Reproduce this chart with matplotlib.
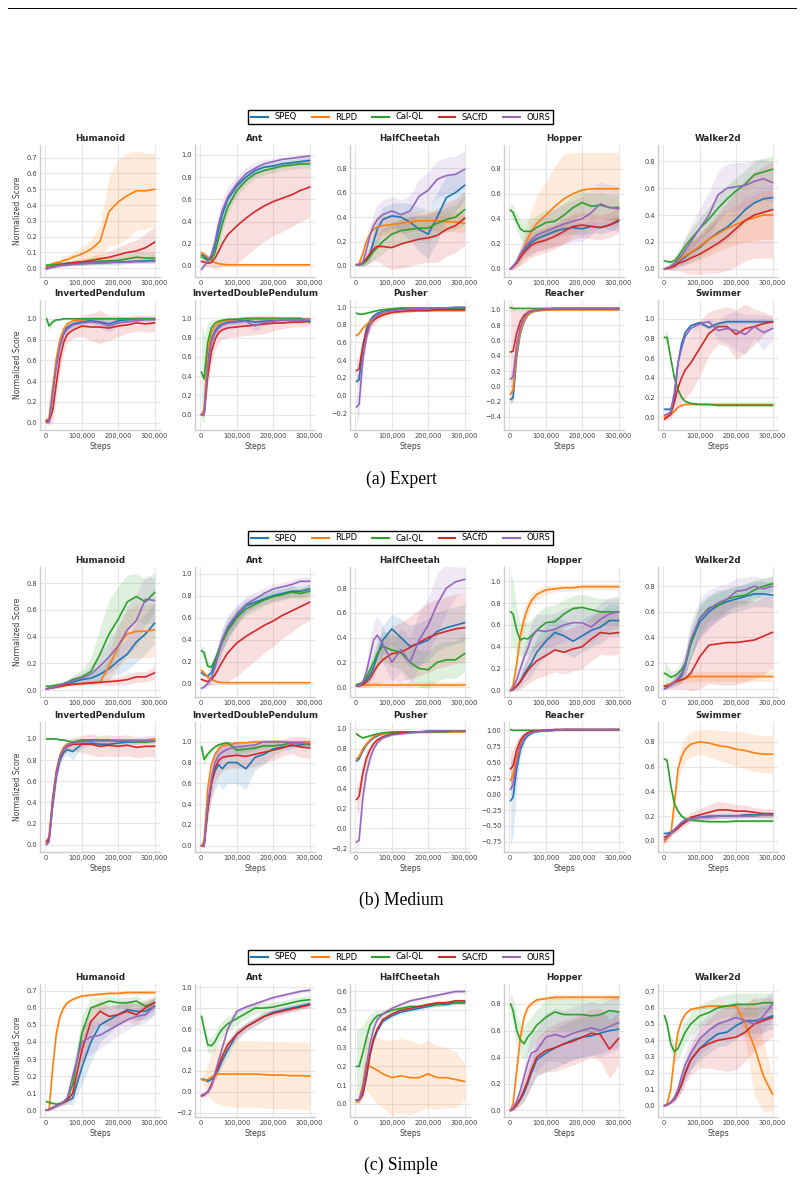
import numpy as np
import matplotlib
matplotlib.use("Agg")
import matplotlib.pyplot as plt
from matplotlib.ticker import MultipleLocator, FuncFormatter
from matplotlib.lines import Line2D

METHODS = ['SPEQ', 'RLPD', 'Cal-QL', 'SACfD', 'OURS']
COLORS = ['#1f77b4', '#ff7f0e', '#2ca02c', '#d62728', '#9467bd']
STEPS_K = [3, 10, 20, 30, 40, 50, 60, 75, 100, 125, 150, 175, 200, 225, 250, 275, 300]

# each panel: means in METHODS order, then half-width of the shaded band (scalar or list)

# ---------------- Expert ----------------
exp_humanoid = [
    [0.0, .005, .01, .015, .02, .022, .025, .028, .03, .033, .035, .038, .04, .042, .045, .048, .05],
    [.01, .02, .03, .035, .04, .05, .055, .07, .09, .12, .17, .36, .42, .46, .49, .49, .5],
    [.02, .02, .022, .025, .028, .03, .032, .035, .04, .042, .045, .048, .05, .06, .07, .065, .065],
    [0.0, .005, .01, .015, .02, .025, .03, .035, .04, .05, .06, .07, .085, .1, .11, .13, .165],
    [-.005, .003, .008, .013, .018, .02, .022, .025, .03, .033, .035, .037, .04, .04, .042, .043, .045]]
exp_humanoid_sd = [
    .01,
    [.005, .01, .01, .015, .02, .02, .025, .03, .04, .06, .1, .22, .27, .27, .25, .24, .23],
    [.005, .005, .006, .008, .01, .012, .014, .016, .02, .022, .025, .028, .03, .03, .035, .035, .035],
    [.005, .005, .006, .008, .01, .012, .014, .016, .02, .025, .03, .04, .05, .06, .07, .09, .1],
    .01]

exp_ant = [
    [.1, .09, .06, .08, .18, .33, .46, .6, .72, .8, .86, .89, .9, .92, .93, .94, .95],
    [.12, .11, .08, .05, .03, .02, .015, .01, .01, .01, .01, .01, .01, .01, .01, .01, .01],
    [.08, .07, .05, .06, .12, .25, .38, .53, .68, .77, .83, .86, .88, .9, .91, .92, .92],
    [.04, .035, .025, .03, .07, .13, .2, .28, .36, .43, .49, .54, .58, .61, .64, .68, .71],
    [-.03, 0, .04, .1, .22, .38, .5, .62, .74, .83, .88, .92, .94, .96, .97, .98, .99]]
exp_ant_sd = [
    [.02, .02, .02, .03, .05, .06, .06, .06, .05, .04, .04, .03, .03, .03, .03, .03, .03],
    .01,
    [.02, .02, .02, .03, .05, .06, .06, .06, .05, .05, .04, .04, .04, .04, .04, .04, .04],
    [.02, .03, .03, .05, .1, .15, .2, .28, .34, .34, .33, .32, .31, .3, .29, .28, .27],
    [.02, .02, .03, .05, .08, .1, .1, .09, .07, .06, .05, .04, .03, .02, .02, .02, .02]]

exp_halfcheetah = [
    [.01, .01, .02, .05, .1, .2, .3, .38, .41, .4, .36, .3, .26, .4, .56, .6, .66],
    [.01, .02, .1, .2, .26, .3, .32, .33, .34, .35, .36, .37, .37, .37, .36, .36, .35],
    [.01, .01, .02, .04, .08, .12, .15, .2, .26, .29, .3, .31, .31, .35, .38, .4, .46],
    [.01, .01, .03, .06, .1, .14, .16, .16, .15, .18, .2, .22, .23, .25, .3, .33, .39],
    [.01, .01, .03, .13, .25, .33, .38, .42, .45, .42, .45, .57, .62, .71, .74, .75, .79]]
exp_halfcheetah_sd = [
    [.005, .01, .02, .04, .06, .08, .1, .1, .1, .12, .15, .18, .2, .2, .18, .15, .12],
    [.005, .01, .03, .05, .06, .07, .08, .08, .08, .08, .08, .08, .08, .08, .08, .08, .08],
    [.005, .01, .02, .03, .05, .07, .08, .1, .1, .1, .1, .1, .1, .1, .1, .1, .12],
    [.005, .01, .03, .05, .08, .1, .12, .15, .18, .2, .2, .2, .2, .22, .22, .22, .22],
    [.005, .01, .03, .06, .08, .1, .12, .12, .12, .12, .13, .14, .15, .15, .15, .15, .15]]

exp_hopper = [
    [0, .02, .05, .1, .15, .18, .21, .24, .27, .3, .32, .33, .32, .34, .33, .35, .38],
    [0, .02, .05, .1, .17, .24, .3, .36, .43, .5, .56, .6, .63, .64, .64, .64, .64],
    [.47, .45, .38, .32, .3, .3, .3, .33, .37, .38, .43, .49, .53, .5, .51, .49, .49],
    [0, .02, .05, .09, .13, .16, .19, .21, .23, .26, .3, .34, .35, .34, .33, .35, .39],
    [0, .02, .06, .12, .17, .2, .23, .27, .3, .33, .36, .38, .4, .45, .52, .49, .48]]
exp_hopper_sd = [
    [.005, .01, .02, .03, .04, .05, .05, .05, .05, .05, .05, .05, .05, .05, .05, .05, .05],
    [.01, .02, .04, .07, .1, .14, .18, .22, .27, .32, .36, .33, .3, .29, .29, .29, .29],
    [.06, .06, .07, .08, .09, .1, .1, .1, .1, .1, .1, .1, .1, .1, .1, .1, .1],
    [.01, .02, .04, .06, .08, .09, .1, .1, .1, .1, .1, .1, .1, .1, .1, .1, .1],
    [.01, .02, .04, .06, .08, .1, .12, .13, .14, .15, .16, .17, .18, .18, .18, .18, .18]]

exp_walker = [
    [0, .005, .01, .03, .05, .07, .09, .12, .16, .22, .27, .31, .37, .44, .49, .52, .53],
    [0, .005, .02, .04, .06, .08, .1, .12, .17, .22, .26, .3, .33, .36, .38, .4, .4],
    [.06, .055, .05, .06, .09, .13, .17, .22, .3, .37, .45, .52, .58, .63, .7, .72, .74],
    [0, .005, .01, .02, .04, .05, .06, .08, .11, .15, .19, .24, .3, .36, .4, .42, .44],
    [0, .01, .02, .04, .07, .1, .14, .2, .3, .4, .55, .6, .61, .62, .65, .67, .64]]
exp_walker_sd = [
    [.005, .01, .02, .03, .04, .05, .06, .07, .08, .09, .1, .1, .1, .1, .1, .1, .1],
    [.005, .01, .02, .03, .04, .05, .06, .08, .1, .12, .13, .14, .15, .16, .17, .18, .18],
    [.01, .01, .02, .03, .04, .05, .06, .07, .08, .09, .1, .1, .1, .1, .1, .1, .1],
    [.005, .01, .02, .03, .05, .07, .09, .12, .15, .18, .22, .25, .28, .3, .32, .34, .36],
    [.005, .01, .02, .03, .05, .07, .09, .12, .15, .17, .18, .18, .18, .17, .16, .15, .15]]

exp_invpend = [
    [.01, .02, .3, .57, .75, .86, .92, .95, .97, .98, .97, .95, .98, .99, 1, 1, 1],
    [.02, .05, .35, .62, .8, .9, .95, .98, .99, 1, 1, 1, 1, 1, 1, 1, 1],
    [1, .93, .97, .99, .99, 1, 1, 1, 1, 1, 1, 1, 1, 1, 1, 1, 1],
    [.02, .01, .12, .38, .62, .77, .85, .89, .93, .92, .92, .91, .93, .94, .96, .95, .96],
    [0, .01, .28, .55, .74, .85, .9, .94, .96, .97, .96, .93, .96, .97, .98, .99, .99]]
exp_invpend_sd = [
    [.01, .02, .06, .06, .05, .04, .03, .03, .02, .02, .03, .04, .02, .02, .01, .01, .01],
    .01,
    [.005, .05, .02, .01, .005, .005, .005, .005, .005, .005, .005, .005, .005, .005, .005, .005, .005],
    [.02, .03, .12, .15, .12, .1, .08, .08, .1, .13, .16, .12, .1, .08, .08, .08, .08],
    [.01, .02, .08, .08, .06, .05, .04, .04, .03, .03, .05, .06, .03, .02, .02, .02, .02]]

exp_invdouble = [
    [0, .01, .55, .78, .87, .92, .94, .96, .97, .98, .96, .97, .98, .98, .99, .99, .99],
    [0, .05, .65, .85, .92, .95, .97, .98, .99, .99, .99, .99, .99, .99, .99, .99, .99],
    [.44, .37, .75, .9, .95, .97, .98, .99, .99, 1, 1, 1, 1, 1, 1, 1, .96],
    [0, 0, .4, .65, .78, .85, .88, .9, .91, .92, .93, .94, .95, .95, .96, .96, .97],
    [0, 0, .5, .75, .85, .9, .93, .95, .96, .97, .92, .96, .97, .98, .98, .98, .98]]
exp_invdouble_sd = [
    [.01, .02, .08, .06, .05, .04, .03, .03, .03, .03, .04, .03, .02, .02, .02, .02, .02],
    .01,
    [.5, .45, .2, .08, .04, .02, .01, .01, .01, .01, .01, .01, .01, .01, .01, .01, .02],
    [.01, .02, .12, .12, .1, .1, .1, .1, .1, .1, .1, .1, .08, .06, .05, .05, .05],
    [.01, .02, .1, .08, .06, .05, .04, .04, .04, .04, .06, .04, .03, .03, .03, .03, .03]]

exp_pusher = [
    [.16, .18, .55, .75, .85, .9, .93, .95, .97, .98, .98, .98, .98, .98, .98, .99, .99],
    [.68, .7, .76, .8, .84, .87, .89, .92, .94, .95, .95, .96, .96, .96, .96, .96, .96],
    [.93, .92, .92, .93, .94, .95, .96, .97, .98, .99, .99, .99, .99, .99, .99, .99, .99],
    [.28, .3, .55, .72, .8, .85, .88, .91, .94, .95, .96, .96, .96, .97, .97, .97, .97],
    [-.13, -.1, .4, .65, .8, .87, .91, .94, .96, .97, .98, .98, .99, .99, .99, 1, 1]]
exp_pusher_sd = [
    [.1, .08, .06, .04, .03, .02, .02, .01, .01, .01, .01, .01, .01, .01, .01, .01, .01],
    [.03, .03, .02, .02, .02, .01, .01, .01, .01, .01, .01, .01, .01, .01, .01, .01, .01],
    .01,
    [.15, .15, .12, .08, .06, .05, .04, .03, .02, .02, .01, .01, .01, .01, .01, .01, .01],
    [.18, .15, .1, .06, .04, .03, .02, .02, .01, .01, .01, .01, .01, .01, .01, .01, .01]]

exp_reacher = [
    [-.17, -.15, .4, .7, .85, .93, .97, .99, 1, 1.01, 1.01, 1.01, 1.01, 1.01, 1.01, 1.01, 1.01],
    [-.1, -.05, .45, .72, .86, .93, .97, .99, 1, 1, 1, 1, 1, 1, 1, 1, 1],
    [1.03, 1.02, 1.02, 1.02, 1.02, 1.02, 1.02, 1.02, 1.02, 1.02, 1.02, 1.02, 1.02, 1.02, 1.02, 1.02, 1.02],
    [.45, .46, .7, .85, .93, .97, .99, 1, 1.01, 1.02, 1.02, 1.02, 1.02, 1.02, 1.02, 1.02, 1.02],
    [.1, .12, .55, .78, .9, .96, .98, 1, 1.01, 1.02, 1.02, 1.02, 1.02, 1.02, 1.02, 1.02, 1.02]]
exp_reacher_sd = [
    [.05, .05, .05, .03, .02, .01, .01, .01, .01, .01, .01, .01, .01, .01, .01, .01, .01],
    [.1, .1, .06, .03, .02, .01, .01, .01, .01, .01, .01, .01, .01, .01, .01, .01, .01],
    .005,
    [.7, .6, .3, .15, .08, .04, .02, .01, .01, .01, .01, .01, .01, .01, .01, .01, .01],
    [.1, .1, .06, .03, .02, .01, .01, .01, .01, .01, .01, .01, .01, .01, .01, .01, .01]]

exp_swimmer = [
    [.08, .08, .08, .2, .55, .75, .86, .93, .96, .91, .95, .97, .97, .97, .97, .97, .97],
    [0, .01, .03, .06, .1, .12, .13, .13, .13, .13, .13, .13, .13, .13, .13, .13, .13],
    [.81, .81, .6, .4, .28, .2, .16, .14, .13, .13, .12, .12, .12, .12, .12, .12, .12],
    [-.02, 0, .03, .15, .3, .4, .48, .55, .7, .85, .92, .92, .84, .9, .92, .95, .97],
    [.02, .03, .05, .25, .55, .7, .82, .9, .95, .97, .88, .9, .88, .84, .92, .86, .9]]
exp_swimmer_sd = [
    .02,
    .01,
    [.08, .06, .04, .03, .02, .02, .01, .01, .01, .01, .01, .01, .01, .01, .01, .01, .01],
    [.02, .03, .05, .1, .2, .25, .28, .3, .28, .22, .18, .2, .25, .25, .18, .12, .06],
    [.02, .03, .05, .1, .08, .06, .05, .04, .03, .03, .1, .15, .2, .2, .12, .18, .12]]

# ---------------- Medium ----------------
med_humanoid = [
    [.01, .015, .02, .025, .03, .04, .05, .06, .08, .09, .12, .16, .22, .27, .36, .42, .5],
    [.01, .015, .02, .025, .03, .035, .04, .045, .05, .055, .06, .18, .33, .42, .44, .44, .45],
    [.03, .03, .035, .04, .045, .05, .06, .08, .1, .14, .27, .42, .53, .66, .7, .66, .73],
    [.01, .015, .02, .025, .03, .035, .04, .045, .05, .055, .06, .065, .07, .08, .1, .1, .13],
    [.01, .015, .02, .03, .04, .05, .06, .07, .09, .12, .18, .25, .33, .45, .52, .68, .67]]
med_humanoid_sd = [
    [.005, .005, .01, .01, .01, .01, .015, .02, .03, .04, .05, .07, .1, .12, .15, .15, .15],
    [.005, .005, .01, .01, .01, .01, .01, .01, .01, .01, .01, .1, .15, .18, .2, .2, .2],
    [.005, .005, .01, .01, .01, .01, .02, .03, .05, .1, .2, .25, .25, .2, .17, .17, .15],
    [.005, .005, .005, .01, .01, .01, .01, .01, .01, .015, .02, .03, .03, .04, .04, .04, .05],
    [.005, .005, .01, .01, .01, .01, .02, .03, .04, .06, .1, .12, .15, .18, .2, .18, .17]]

med_ant = [
    [.1, .08, .07, .1, .2, .3, .4, .5, .62, .71, .74, .77, .8, .82, .84, .84, .86],
    [.12, .1, .06, .04, .025, .015, .01, .01, .01, .01, .01, .01, .01, .01, .01, .01, .01],
    [.3, .28, .16, .15, .22, .3, .38, .48, .6, .68, .72, .76, .79, .81, .83, .82, .84],
    [.04, .03, .02, .04, .08, .14, .2, .28, .37, .43, .48, .53, .57, .62, .66, .7, .74],
    [-.04, -.03, 0, .05, .15, .27, .4, .52, .63, .72, .77, .82, .86, .88, .9, .93, .93]]
med_ant_sd = [
    [.02, .02, .03, .04, .06, .08, .1, .1, .08, .06, .05, .05, .05, .05, .05, .05, .05],
    [.02, .02, .015, .01, .01, .01, .01, .01, .01, .01, .01, .01, .01, .01, .01, .01, .01],
    [.05, .05, .04, .04, .05, .06, .07, .07, .07, .06, .06, .05, .05, .05, .05, .05, .05],
    [.02, .02, .03, .05, .08, .12, .18, .26, .3, .29, .27, .25, .23, .21, .19, .17, .16],
    [.02, .02, .03, .05, .08, .1, .1, .1, .08, .07, .06, .05, .05, .04, .04, .04, .04]]

med_halfcheetah = [
    [.01, .01, .03, .06, .1, .16, .25, .38, .47, .4, .33, .35, .38, .45, .48, .5, .52],
    [.02, .02, .02, .02, .02, .02, .02, .02, .02, .02, .02, .02, .02, .02, .02, .02, .02],
    [.02, .025, .04, .08, .14, .2, .27, .33, .3, .28, .2, .15, .14, .2, .22, .22, .27],
    [.01, .01, .02, .04, .07, .12, .17, .22, .27, .28, .32, .36, .4, .43, .45, .47, .48],
    [.01, .01, .04, .12, .25, .38, .42, .35, .2, .3, .2, .38, .5, .67, .8, .85, .87]]
med_halfcheetah_sd = [
    [.005, .01, .02, .04, .06, .08, .1, .12, .12, .15, .17, .17, .17, .16, .15, .15, .15],
    .02,
    [.01, .01, .02, .04, .06, .08, .1, .12, .13, .13, .14, .15, .15, .15, .15, .15, .15],
    [.01, .01, .02, .04, .06, .1, .14, .18, .22, .24, .25, .27, .28, .28, .28, .28, .28],
    [.01, .01, .03, .08, .12, .15, .15, .15, .15, .18, .2, .22, .22, .25, .2, .12, .1]]

med_hopper = [
    [0, .01, .04, .08, .15, .2, .25, .35, .45, .53, .5, .45, .5, .55, .58, .64, .64],
    [0, .05, .25, .5, .65, .75, .82, .88, .92, .93, .94, .94, .95, .95, .95, .95, .95],
    [.72, .7, .55, .46, .48, .47, .5, .55, .62, .63, .7, .75, .76, .74, .72, .72, .72],
    [0, .01, .04, .08, .13, .18, .22, .27, .32, .37, .35, .38, .4, .47, .53, .52, .53],
    [0, .02, .1, .2, .3, .38, .48, .55, .54, .56, .6, .62, .62, .58, .65, .7, .72]]
med_hopper_sd = [
    [.01, .01, .03, .05, .08, .1, .12, .13, .14, .15, .15, .15, .15, .15, .15, .15, .15],
    [.01, .03, .08, .1, .1, .08, .06, .05, .04, .03, .03, .03, .03, .03, .03, .03, .03],
    [.35, .3, .2, .15, .15, .15, .15, .15, .15, .15, .13, .12, .12, .12, .12, .12, .12],
    [.01, .02, .04, .07, .1, .12, .14, .16, .18, .2, .2, .2, .2, .2, .2, .2, .2],
    [.01, .02, .05, .08, .1, .12, .14, .15, .15, .15, .15, .15, .15, .15, .15, .15, .15]]

med_walker = [
    [0, .01, .03, .05, .07, .1, .18, .35, .52, .6, .65, .68, .7, .72, .74, .74, .73],
    [.02, .03, .04, .05, .06, .07, .08, .095, .095, .095, .095, .095, .095, .095, .095, .095, .095],
    [.12, .11, .09, .1, .12, .15, .2, .35, .55, .63, .65, .7, .72, .73, .77, .8, .82],
    [.02, .02, .03, .05, .06, .07, .08, .12, .25, .34, .35, .36, .36, .37, .38, .41, .44],
    [0, .01, .03, .05, .08, .12, .2, .38, .55, .62, .67, .7, .76, .77, .8, .78, .8]]
med_walker_sd = [
    [.01, .01, .02, .03, .04, .05, .07, .1, .12, .12, .12, .1, .1, .1, .1, .1, .1],
    [.01, .01, .01, .02, .02, .03, .03, .04, .04, .04, .04, .04, .04, .04, .04, .04, .04],
    [.1, .08, .05, .04, .05, .06, .08, .12, .12, .1, .1, .08, .08, .08, .08, .06, .06],
    [.01, .02, .03, .05, .06, .07, .08, .14, .25, .3, .32, .33, .33, .32, .3, .3, .28],
    [.01, .01, .02, .03, .05, .07, .1, .14, .16, .15, .13, .12, .1, .1, .08, .08, .08]]

med_invpend = [
    [.01, .04, .38, .65, .8, .87, .9, .88, .95, .96, .95, .95, .96, .97, .97, .98, .98],
    [.02, .08, .45, .7, .85, .92, .95, .97, .98, .99, .99, .99, .99, .99, .99, .99, 1],
    [1, 1, 1, 1, .99, .99, .98, .97, .99, .99, .99, .99, .98, .98, .97, .97, .98],
    [.03, .06, .42, .68, .83, .9, .93, .95, .95, .95, .93, .94, .93, .94, .92, .93, .93],
    [0, .03, .4, .67, .83, .9, .94, .96, .97, .98, .98, .98, .98, .98, .98, .98, .98]]
med_invpend_sd = [
    [.01, .02, .06, .06, .05, .04, .05, .08, .03, .02, .03, .02, .02, .02, .02, .02, .02],
    .01,
    .005,
    [.02, .03, .08, .08, .06, .05, .05, .06, .08, .1, .1, .1, .1, .1, .1, .1, .1],
    [.01, .02, .06, .06, .04, .03, .03, .02, .02, .02, .02, .02, .02, .02, .02, .02, .02]]

med_invdouble = [
    [0, .01, .35, .6, .72, .78, .74, .8, .8, .74, .85, .88, .93, .95, .96, .97, .98],
    [0, .05, .55, .78, .88, .93, .96, .97, .99, .99, 1, 1, 1, 1, 1, 1, 1],
    [.95, .83, .88, .92, .95, .97, .98, .99, .92, .93, .94, .96, .96, .97, .99, .99, .97],
    [0, 0, .35, .6, .75, .82, .85, .86, .87, .86, .88, .9, .92, .94, .97, .95, .94],
    [0, 0, .4, .65, .8, .87, .9, .93, .95, .96, .97, 1, 1, 1, .99, .99, .98]]
med_invdouble_sd = [
    [.01, .02, .1, .15, .18, .18, .2, .2, .2, .2, .12, .1, .06, .04, .03, .02, .02],
    .01,
    [.06, .05, .04, .03, .02, .02, .02, .02, .04, .04, .03, .03, .03, .02, .02, .02, .03],
    [.01, .02, .1, .15, .15, .15, .13, .12, .12, .12, .12, .1, .1, .08, .08, .1, .1],
    [.01, .02, .08, .1, .1, .1, .08, .07, .06, .05, .05, .03, .02, .02, .02, .02, .02]]

med_pusher = [
    [.68, .7, .78, .84, .88, .91, .93, .95, .96, .97, .97, .97, .98, .98, .98, .98, .98],
    [.7, .72, .8, .85, .89, .92, .94, .95, .96, .97, .97, .97, .97, .97, .97, .97, .97],
    [.95, .93, .91, .92, .93, .94, .95, .96, .97, .97, .97, .97, .97, .97, .97, .98, .98],
    [.29, .32, .55, .7, .79, .85, .89, .92, .95, .96, .97, .97, .97, .98, .98, .98, .98],
    [-.14, -.12, .3, .55, .7, .8, .86, .91, .94, .95, .96, .97, .97, .98, .98, .98, .98]]
med_pusher_sd = [
    [.03, .03, .02, .02, .01, .01, .01, .01, .01, .01, .01, .01, .01, .01, .01, .01, .01],
    [.03, .03, .02, .02, .01, .01, .01, .01, .01, .01, .01, .01, .01, .01, .01, .01, .01],
    .01,
    [.15, .15, .12, .08, .05, .04, .03, .02, .01, .01, .01, .01, .01, .01, .01, .01, .01],
    [.05, .05, .06, .05, .04, .03, .02, .01, .01, .01, .01, .01, .01, .01, .01, .01, .01]]

med_reacher = [
    [-.1, -.05, .4, .7, .85, .92, .96, .99, 1, 1.01, 1.02, 1.02, 1.02, 1.02, 1.02, 1.02, 1.02],
    [.22, .3, .6, .8, .9, .95, .98, 1, 1.01, 1.02, 1.02, 1.02, 1.02, 1.02, 1.02, 1.02, 1.02],
    [1.02, 1.01, 1.01, 1.01, 1.01, 1.01, 1.01, 1.01, 1.01, 1.02, 1.02, 1.02, 1.02, 1.02, 1.02, 1.02, 1.02],
    [.4, .45, .7, .85, .93, .97, .99, 1, 1.01, 1.02, 1.02, 1.02, 1.02, 1.02, 1.02, 1.02, 1.02],
    [.08, .15, .5, .75, .88, .94, .97, .99, 1, 1.01, 1.02, 1.02, 1.02, 1.02, 1.02, 1.02, 1.02]]
med_reacher_sd = [
    [.7, .6, .25, .12, .06, .03, .02, .01, .01, .01, .01, .01, .01, .01, .01, .01, .01],
    [.15, .12, .06, .03, .02, .01, .01, .01, .01, .01, .01, .01, .01, .01, .01, .01, .01],
    .005,
    [.3, .25, .15, .08, .04, .02, .01, .01, .01, .01, .01, .01, .01, .01, .01, .01, .01],
    [.2, .15, .08, .04, .02, .01, .01, .01, .01, .01, .01, .01, .01, .01, .01, .01, .01]]

med_swimmer = [
    [.06, .06, .07, .09, .12, .14, .16, .18, .19, .2, .2, .2, .2, .21, .21, .21, .21],
    [-.01, .02, .05, .3, .58, .68, .74, .78, .8, .79, .77, .76, .74, .73, .71, .7, .7],
    [.66, .65, .45, .3, .24, .2, .18, .17, .16, .155, .155, .155, .16, .16, .16, .16, .16],
    [.03, .04, .06, .08, .1, .13, .15, .19, .21, .23, .25, .25, .24, .24, .23, .22, .22],
    [.01, .03, .06, .09, .12, .15, .17, .18, .19, .19, .2, .2, .2, .2, .2, .21, .21]]
med_swimmer_sd = [
    .02,
    [.02, .02, .04, .08, .1, .1, .1, .1, .1, .11, .12, .13, .14, .15, .15, .15, .15],
    [.02, .02, .02, .02, .02, .02, .01, .01, .01, .01, .01, .01, .01, .01, .01, .01, .01],
    [.02, .02, .02, .02, .03, .03, .03, .04, .05, .06, .07, .06, .05, .05, .04, .04, .04],
    .02]

# ---------------- Simple ----------------
sim_humanoid = [
    [0, .005, .015, .025, .035, .045, .055, .07, .25, .4, .5, .53, .56, .59, .58, .58, .61],
    [0, 0, .25, .45, .55, .6, .63, .65, .67, .675, .68, .685, .685, .69, .69, .69, .69],
    [.05, .045, .04, .035, .04, .05, .07, .15, .45, .6, .62, .64, .63, .63, .64, .61, .63],
    [0, .005, .015, .025, .035, .045, .06, .1, .35, .52, .58, .55, .56, .58, .56, .6, .63],
    [0, .005, .015, .025, .035, .05, .07, .2, .4, .43, .44, .47, .5, .53, .55, .56, .61]]
sim_humanoid_sd = [
    [.005, .005, .01, .01, .01, .015, .02, .04, .1, .12, .1, .08, .06, .05, .05, .05, .05],
    [.005, .005, .03, .03, .02, .02, .01, .01, .01, .01, .01, .01, .01, .01, .01, .01, .01],
    [.01, .01, .01, .01, .01, .01, .02, .05, .1, .06, .04, .03, .03, .03, .03, .03, .03],
    [.005, .005, .01, .01, .01, .015, .02, .04, .1, .08, .06, .06, .06, .06, .06, .05, .04],
    [.005, .005, .01, .01, .01, .015, .02, .06, .1, .1, .08, .07, .06, .06, .05, .05, .05]]

sim_ant = [
    [.12, .12, .1, .12, .16, .22, .3, .4, .55, .62, .67, .72, .76, .78, .8, .82, .84],
    [.12, .11, .12, .14, .16, .17, .17, .17, .17, .17, .17, .165, .16, .16, .155, .155, .15],
    [.72, .6, .45, .44, .48, .55, .6, .65, .7, .75, .8, .8, .81, .83, .85, .87, .88],
    [-.04, -.03, 0, .07, .16, .25, .34, .45, .55, .62, .67, .72, .75, .77, .79, .81, .83],
    [-.03, -.02, 0, .05, .18, .3, .42, .6, .77, .81, .84, .87, .9, .92, .94, .96, .97]]
sim_ant_sd = [
    [.02, .02, .02, .03, .04, .05, .06, .06, .05, .04, .04, .04, .03, .03, .03, .03, .03],
    [.02, .05, .15, .22, .26, .28, .3, .31, .32, .32, .32, .32, .32, .32, .32, .32, .32],
    [.05, .06, .07, .08, .08, .08, .08, .07, .06, .05, .05, .05, .05, .04, .04, .04, .04],
    [.02, .02, .03, .04, .05, .05, .05, .05, .05, .04, .04, .04, .03, .03, .03, .03, .03],
    .02]

sim_halfcheetah = [
    [.02, .02, .05, .14, .26, .34, .39, .44, .47, .49, .5, .51, .52, .53, .53, .54, .54],
    [.01, .02, .1, .22, .2, .19, .18, .16, .14, .15, .14, .14, .16, .14, .14, .13, .12],
    [.2, .2, .27, .35, .42, .45, .47, .48, .5, .51, .52, .52, .53, .53, .54, .54, .54],
    [.02, .02, .05, .15, .27, .35, .4, .45, .48, .5, .51, .52, .53, .54, .54, .55, .55],
    [.02, .02, .08, .2, .32, .4, .45, .48, .51, .53, .55, .56, .57, .58, .59, .6, .6]]
sim_halfcheetah_sd = [
    .01,
    [.01, .02, .08, .15, .15, .17, .18, .18, .2, .2, .2, .18, .18, .17, .16, .15, .1],
    [.2, .2, .15, .1, .06, .04, .03, .02, .01, .01, .01, .01, .01, .01, .01, .01, .01],
    .01,
    .01]

sim_hopper = [
    [0, .01, .04, .08, .13, .2, .28, .38, .43, .47, .5, .53, .55, .56, .58, .6, .61],
    [0, .05, .3, .55, .7, .77, .8, .83, .84, .85, .85, .85, .85, .85, .85, .85, .85],
    [.8, .75, .6, .53, .5, .55, .58, .64, .7, .74, .72, .72, .72, .71, .72, .75, .74],
    [0, .01, .04, .09, .15, .22, .3, .4, .45, .47, .5, .52, .55, .58, .57, .46, .54],
    [0, .02, .07, .15, .25, .35, .43, .45, .55, .57, .55, .58, .6, .62, .6, .63, .66]]
sim_hopper_sd = [
    [.005, .01, .02, .04, .06, .08, .1, .12, .14, .15, .15, .15, .15, .15, .15, .14, .14],
    [.005, .02, .05, .05, .04, .03, .02, .02, .02, .02, .02, .02, .02, .02, .02, .02, .02],
    [.08, .1, .12, .12, .12, .12, .12, .12, .12, .12, .12, .12, .12, .12, .12, .12, .12],
    [.005, .01, .03, .05, .08, .1, .12, .14, .16, .18, .18, .18, .18, .18, .2, .22, .2],
    [.005, .01, .03, .06, .09, .12, .14, .16, .18, .2, .2, .2, .2, .2, .2, .2, .2]]

sim_walker = [
    [0, .005, .02, .04, .08, .13, .2, .28, .35, .4, .44, .45, .49, .52, .52, .53, .55],
    [0, .01, .1, .3, .45, .52, .56, .59, .6, .61, .61, .61, .61, .5, .36, .18, .07],
    [.55, .5, .38, .33, .35, .4, .45, .5, .55, .57, .6, .61, .62, .62, .62, .63, .63],
    [0, .005, .02, .04, .08, .13, .2, .28, .35, .38, .4, .41, .42, .45, .5, .52, .54],
    [0, .005, .02, .05, .1, .18, .25, .32, .41, .46, .5, .52, .54, .52, .5, .55, .62]]
sim_walker_sd = [
    [.005, .005, .01, .02, .03, .04, .05, .06, .07, .08, .08, .08, .08, .08, .08, .08, .08],
    [.005, .01, .02, .03, .02, .01, .01, .01, .01, .01, .01, .01, .01, .1, .3, .22, .1],
    [.02, .03, .05, .06, .07, .07, .07, .07, .07, .07, .07, .07, .07, .07, .07, .06, .06],
    [.005, .005, .01, .02, .03, .05, .07, .09, .12, .15, .18, .2, .2, .18, .16, .14, .12],
    [.005, .005, .01, .02, .04, .06, .08, .1, .1, .1, .1, .1, .1, .1, .1, .1, .08]]

# (title, means, bands, ylim, ytick step)
GROUPS = [
    ('(a) Expert', [
        [('Humanoid', exp_humanoid, exp_humanoid_sd, (-0.055, 0.78), 0.1),
         ('Ant', exp_ant, exp_ant_sd, (-0.1, 1.09), 0.2),
         ('HalfCheetah', exp_halfcheetah, exp_halfcheetah_sd, (-0.09, 0.99), 0.2),
         ('Hopper', exp_hopper, exp_hopper_sd, (-0.065, 0.99), 0.2),
         ('Walker2d', exp_walker, exp_walker_sd, (-0.06, 0.92), 0.2)],
        [('InvertedPendulum', exp_invpend, exp_invpend_sd, (-0.07, 1.18), 0.2),
         ('InvertedDoublePendulum', exp_invdouble, exp_invdouble_sd, (-0.16, 1.19), 0.2),
         ('Pusher', exp_pusher, exp_pusher_sd, (-0.39, 1.08), 0.2),
         ('Reacher', exp_reacher, exp_reacher_sd, (-0.57, 1.13), 0.2),
         ('Swimmer', exp_swimmer, exp_swimmer_sd, (-0.13, 1.19), 0.2)]]),
    ('(b) Medium', [
        [('Humanoid', med_humanoid, med_humanoid_sd, (-0.05, 0.92), 0.2),
         ('Ant', med_ant, med_ant_sd, (-0.12, 1.06), 0.2),
         ('HalfCheetah', med_halfcheetah, med_halfcheetah_sd, (-0.08, 0.97), 0.2),
         ('Hopper', med_hopper, med_hopper_sd, (-0.06, 1.13), 0.2),
         ('Walker2d', med_walker, med_walker_sd, (-0.065, 0.95), 0.2)],
        [('InvertedPendulum', med_invpend, med_invpend_sd, (-0.07, 1.16), 0.2),
         ('InvertedDoublePendulum', med_invdouble, med_invdouble_sd, (-0.06, 1.19), 0.2),
         ('Pusher', med_pusher, med_pusher_sd, (-0.24, 1.07), 0.2),
         ('Reacher', med_reacher, med_reacher_sd, (-0.91, 1.14), 0.25),
         ('Swimmer', med_swimmer, med_swimmer_sd, (-0.09, 0.96), 0.2)]]),
    ('(c) Simple', [
        [('Humanoid', sim_humanoid, sim_humanoid_sd, (-0.04, 0.74), 0.1),
         ('Ant', sim_ant, sim_ant_sd, (-0.24, 1.03), 0.2),
         ('HalfCheetah', sim_halfcheetah, sim_halfcheetah_sd, (-0.07, 0.64), 0.1),
         ('Hopper', sim_hopper, sim_hopper_sd, (-0.05, 0.95), 0.2),
         ('Walker2d', sim_walker, sim_walker_sd, (-0.07, 0.745), 0.1)]]),
]

# ---- layout in pixels ----
W, H = 804, 1181
COL_LEFT = [40, 195, 350, 504, 658]
AX_W = 120
ROWS_PX = [[(145, 277), (300, 430)],
           [(567, 697), (722, 852)],
           [(984, 1117)]]
LEGEND_Y = [117, 538, 957]
CAPTION_Y = [479, 900, 1165]


def px_rect(left, top, bottom):
    return [left / W, 1 - bottom / H, AX_W / W, (bottom - top) / H]


fig = plt.figure(figsize=(W / 100, H / 100), dpi=100)
x = np.array(STEPS_K) * 1000

for g, (caption, rows) in enumerate(GROUPS):
    for r, row in enumerate(rows):
        top, bot = ROWS_PX[g][r]
        last_row = (r == len(rows) - 1)
        for c, (name, means, bands, ylim, ystep) in enumerate(row):
            ax = fig.add_axes(px_rect(COL_LEFT[c], top, bot))
            for m, sd, col in zip(means, bands, COLORS):
                m = np.array(m, dtype=float)
                sd = np.broadcast_to(np.asarray(sd, dtype=float), m.shape)
                ax.fill_between(x, m - sd, m + sd, color=col, alpha=0.15, lw=0)
                ax.plot(x, m, color=col, lw=1.2)
            ax.set_xlim(-15000, 315000)
            ax.set_ylim(*ylim)
            ax.set_xticks([0, 100000, 200000, 300000])
            ax.xaxis.set_major_formatter(FuncFormatter(lambda v, p: '{:,}'.format(int(v))))
            ax.yaxis.set_major_locator(MultipleLocator(ystep))
            ax.grid(color='#e6e6e6', lw=0.8)
            ax.set_axisbelow(True)
            for s in ['top', 'right']:
                ax.spines[s].set_visible(False)
            for s in ['left', 'bottom']:
                ax.spines[s].set_color('#cccccc')
                ax.spines[s].set_linewidth(1.0)
            ax.tick_params(length=0, labelsize=4.8, labelcolor='#404040', pad=2)
            ax.set_title(name, fontsize=6.3, fontweight='bold', pad=3, color='#262626')
            if c == 0:
                ax.set_ylabel('Normalized Score', fontsize=5.6, color='#404040', labelpad=3)
            if last_row:
                ax.set_xlabel('Steps', fontsize=5.6, color='#404040', labelpad=2)

    handles = [Line2D([], [], color=col, lw=1.5) for col in COLORS]
    leg = fig.legend(handles, METHODS, loc='center', bbox_to_anchor=(401 / W, 1 - LEGEND_Y[g] / H),
                     ncol=5, fontsize=6, frameon=True, fancybox=False, edgecolor='black',
                     framealpha=1, columnspacing=1.8, handlelength=2.0, handletextpad=0.8,
                     borderpad=0.35)
    leg.get_frame().set_linewidth(1.0)
    fig.text(401 / W, 1 - CAPTION_Y[g] / H, caption, ha='center', va='center',
             fontsize=12.7, family='Liberation Serif')

# page header rule
fig.add_artist(Line2D([8 / W, 796 / W], [1 - 8 / H, 1 - 8 / H], color='black', lw=0.7))

fig.savefig('out.png', dpi=100)
